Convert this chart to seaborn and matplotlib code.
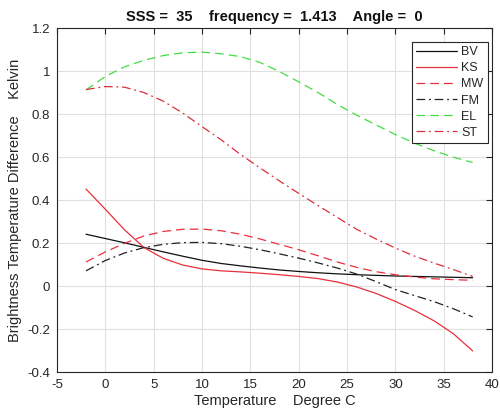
import matplotlib
matplotlib.use("Agg")
import matplotlib.pyplot as plt
import seaborn as sns
import numpy as np
import pandas as pd

temperature = [-2, 0, 2, 4, 6, 8, 10, 12, 14, 16, 18, 20, 22, 24, 26, 28, 30, 32, 34, 36, 38]
bv = [0.242, 0.222, 0.202, 0.181, 0.160, 0.140, 0.121, 0.106, 0.095, 0.085, 0.076, 0.069, 0.063, 0.058,
      0.054, 0.051, 0.048, 0.046, 0.044, 0.042, 0.040]
ks = [0.452, 0.358, 0.262, 0.180, 0.130, 0.099, 0.081, 0.072, 0.067, 0.061, 0.054, 0.046, 0.036, 0.020,
      -0.003, -0.033, -0.070, -0.112, -0.160, -0.220, -0.300]
mw = [0.113, 0.160, 0.200, 0.234, 0.255, 0.265, 0.266, 0.258, 0.242, 0.220, 0.195, 0.170, 0.142, 0.113,
      0.088, 0.068, 0.054, 0.043, 0.035, 0.031, 0.028]
fm = [0.072, 0.120, 0.155, 0.180, 0.195, 0.203, 0.204, 0.198, 0.186, 0.170, 0.151, 0.131, 0.109, 0.085,
      0.057, 0.022, -0.015, -0.043, -0.071, -0.104, -0.142]
el = [0.912, 0.975, 1.020, 1.050, 1.072, 1.085, 1.088, 1.080, 1.067, 1.040, 0.998, 0.950, 0.900, 0.845,
      0.795, 0.750, 0.705, 0.665, 0.630, 0.600, 0.575]
st = [0.914, 0.928, 0.925, 0.900, 0.860, 0.805, 0.742, 0.680, 0.612, 0.550, 0.490, 0.432, 0.375, 0.320,
      0.265, 0.220, 0.178, 0.140, 0.108, 0.078, 0.046]

series_names = ["BV", "KS", "MW", "FM", "EL", "ST"]
series_values = [bv, ks, mw, fm, el, st]

x_ticks = [-5, 0, 5, 10, 15, 20, 25, 30, 35, 40]
y_ticks = [-0.4, -0.2, 0, 0.2, 0.4, 0.6, 0.8, 1, 1.2]
y_tick_labels = ["-0.4", "-0.2", "0", "0.2", "0.4", "0.6", "0.8", "1", "1.2"]
x_tick_labels = ["-5", "0", "5", "10", "15", "20", "25", "30", "35", "40"]

title_text = "SSS =  35    frequency =  1.413    Angle =  0"
x_label = "Temperature    Degree C"
y_label = "Brightness Temperature Difference    Kelvin"

sns.set_theme(style="white")
plt.rcParams["font.family"] = ["Liberation Sans", "DejaVu Sans"]
plt.rcParams["axes.unicode_minus"] = False

df = pd.DataFrame({
    "T": np.tile(temperature, len(series_names)),
    "val": np.concatenate(series_values),
    "series": np.repeat(series_names, len(temperature)),
})

styles = {
    "BV": dict(color="#111111", ls="-"),
    "KS": dict(color="#e8303c", ls="-"),
    "MW": dict(color="#e8303c", ls=(0, (7, 4))),
    "FM": dict(color="#222222", ls=(0, (7, 3, 1.5, 3))),
    "EL": dict(color="#44dd44", ls=(0, (7, 4))),
    "ST": dict(color="#d8303c", ls=(0, (7, 3, 1.5, 3))),
}

fig = plt.figure(figsize=(5.0, 4.18), dpi=100)
ax = fig.add_axes([0.114, 0.109, 0.870, 0.824])

for name in series_names:
    sub = df[df["series"] == name]
    st_ = styles[name]
    sns.lineplot(data=sub, x="T", y="val", ax=ax, color=st_["color"], linestyle=st_["ls"],
                 linewidth=0.9, label=name, sort=False)

ax.set_xlim(-5, 40)
ax.set_ylim(-0.4, 1.2)
ax.set_xticks(x_ticks)
ax.set_xticklabels(x_tick_labels)
ax.set_yticks(y_ticks)
ax.set_yticklabels(y_tick_labels)
ax.grid(True, color="#e0e0e0", linewidth=0.8)
ax.set_axisbelow(True)
for s in ax.spines.values():
    s.set_visible(True)
    s.set_color("#262626")
    s.set_linewidth(0.8)
ax.tick_params(direction="in", length=4, width=0.8, colors="#262626", labelsize=9.5,
               top=True, right=True, labeltop=False, labelright=False, pad=5)
ax.set_xlabel(x_label, fontsize=10.5, color="#262626", labelpad=2)
ax.set_ylabel(y_label, fontsize=10.5, color="#262626", labelpad=4)
ax.set_title(title_text, fontsize=10.5, fontweight="bold", color="#111111", pad=5)

leg = ax.legend(loc="upper right", bbox_to_anchor=(0.9955, 0.967), fontsize=9, frameon=True,
                fancybox=False, edgecolor="#262626", framealpha=1, handlelength=3.3,
                handletextpad=0.3, labelspacing=0.33, borderpad=0.35, borderaxespad=0.2)
leg.get_frame().set_linewidth(0.8)

fig.savefig("out.png", dpi=100)
